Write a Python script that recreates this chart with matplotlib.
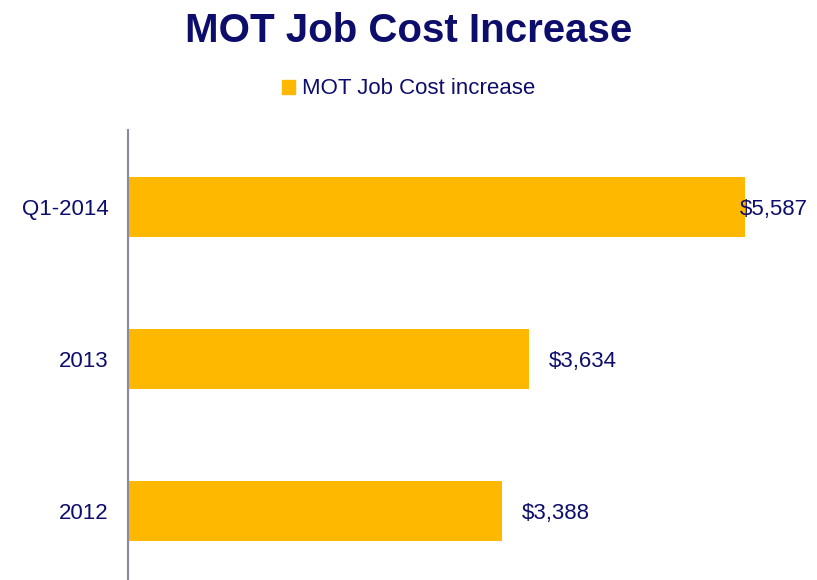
import matplotlib.pyplot as plt
from matplotlib.patches import Patch

plt.rcParams['font.family'] = ['Liberation Sans', 'DejaVu Sans']

categories = ["2012", "2013", "Q1-2014"]
values = [3388, 3634, 5587]
value_labels = ["$3,388", "$3,634", "$5,587"]
series_name = "MOT Job Cost increase"
title = "MOT Job Cost Increase"

navy = "#0d0d6b"
gold = "#ffb800"

W, H = 817, 580
fig = plt.figure(figsize=(W / 100, H / 100), dpi=100)
ax = fig.add_axes([128 / W, 0, 680 / W, 450 / H])

y = range(len(categories))
ax.barh(y, values, height=0.395, color=gold)

ax.set_xlim(0, 6160)
ax.set_ylim(-0.454, 2.507)
ax.set_yticks(list(y))
ax.set_yticklabels(categories, fontsize=16, color=navy, va="center_baseline")
ax.tick_params(axis="y", length=0, pad=14)
ax.set_xticks([])
for side in ["top", "right", "bottom"]:
    ax.spines[side].set_visible(False)
ax.spines["left"].set_color("#8a88a8")
ax.spines["left"].set_linewidth(1.5)

# value labels, 20px right of the bar, pulled back if they would overflow
labels = []
for i, (v, lab) in enumerate(zip(values, value_labels)):
    t = ax.annotate(lab, (v, i), xytext=(14.4, 0), textcoords="offset points",
                    ha="left", va="center_baseline", fontsize=16, color=navy)
    labels.append(t)

fig.canvas.draw()
renderer = fig.canvas.get_renderer()
limit = W - 9
for t in labels:
    bb = t.get_window_extent(renderer)
    if bb.x1 > limit:
        shift = (bb.x1 - limit) * 72 / 100
        t.xyann = (14.4 - shift, 0)

fig.text(0.5, 1 - 27 / H, title, ha="center", va="center_baseline",
         fontsize=29, fontweight="bold", color=navy)
fig.legend(handles=[Patch(color=gold, label=series_name)],
           loc="center", bbox_to_anchor=(0.5, 1 - 89 / H), frameon=False,
           fontsize=16, handlelength=0.6, handleheight=0.6, handletextpad=0.3,
           labelcolor=navy)

fig.savefig("out.png", dpi=100)
